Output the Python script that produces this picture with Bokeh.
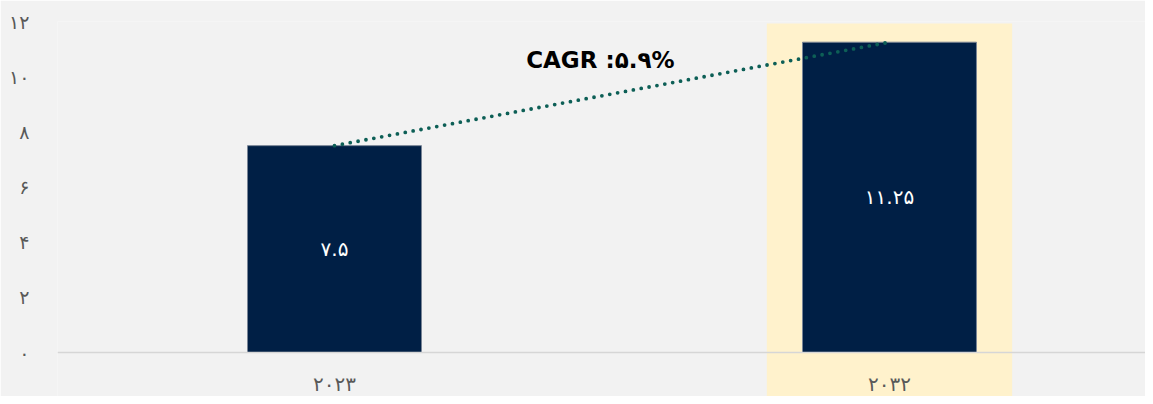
from bokeh.plotting import figure
from bokeh.models import Range1d, Span, FixedTicker, ColumnDataSource
from bokeh.core.properties import value
from bokeh.embed import file_html
from bokeh.resources import INLINE

# ---- data ----
years = ["2023", "2032"]
market_values = [7.5, 11.25]
y_ticks = [0, 2, 4, 6, 8, 10, 12]
cagr_label = "CAGR :۵.۹%"
highlight_year = "2032"

FA = str.maketrans("0123456789", "۰۱۲۳۴۵۶۷۸۹")


def fa(s):
    return str(s).translate(FA)


Y_MIN = -1.595
xpos = list(range(1, len(years) + 1))
src = ColumnDataSource(dict(
    x=xpos,
    top=market_values,
    mid=[v / 2 for v in market_values],
    vlabel=[fa(v) for v in market_values],
    ylabel=[fa(y) for y in years],
    ybase=[-1.124] * len(years),
))

FONT = "DejaVu Sans"
p = figure(width=1145, height=396, output_backend="svg", toolbar_location=None,
           x_range=Range1d(0.5009, 2.4613), y_range=Range1d(Y_MIN, 12),
           min_border_left=57, min_border_right=0, min_border_top=21, min_border_bottom=0,
           x_axis_location=None)
p.background_fill_color = "#f2f2f2"
p.border_fill_color = "#f2f2f2"
p.outline_line_color = None
p.grid.visible = False

# highlight band behind the 2032 bar
hx = xpos[years.index(highlight_year)]
p.quad(left=[hx - 0.221], right=[hx + 0.221], bottom=[Y_MIN], top=[11.93],
       fill_color="#fff2cc", line_color=None)

p.add_layout(Span(location=0, dimension="width", line_color="#d6d6d6", line_width=1.5))

p.vbar(x="x", top="top", width=0.3135, source=src,
       fill_color="#001f45", line_color="#7a8596", line_width=1)

p.line(x="x", y="top", source=src, line_color="#0d5f56", line_width=3.8,
       line_dash="0 8", line_cap="round")

p.text(x="x", y="mid", text="vlabel", source=src, text_color="white",
       text_font=value(FONT), text_font_size="20px",
       text_align="center", text_baseline="middle")

p.text(x="x", y="ybase", text="ylabel", source=src, text_color="#595959",
       text_font=value(FONT), text_font_size="20px",
       text_align="center", text_baseline="middle")

p.text(x=[1.479], y=[10.59], text=[cagr_label], text_color="#000000",
       text_font=value(FONT), text_font_style="bold", text_font_size="23px",
       text_align="center", text_baseline="middle")

ax = p.yaxis[0]
ax.ticker = FixedTicker(ticks=y_ticks)
ax.major_label_overrides = {t: fa(t) for t in y_ticks}
ax.bounds = (0, 12)
ax.axis_line_color = None
ax.major_tick_line_color = None
ax.minor_tick_line_color = None
ax.major_tick_out = 0
ax.major_label_standoff = 28
ax.major_label_text_font = FONT
ax.major_label_text_font_size = "19px"
ax.major_label_text_color = "#595959"

open("out.html", "w").write(file_html(p, INLINE))
